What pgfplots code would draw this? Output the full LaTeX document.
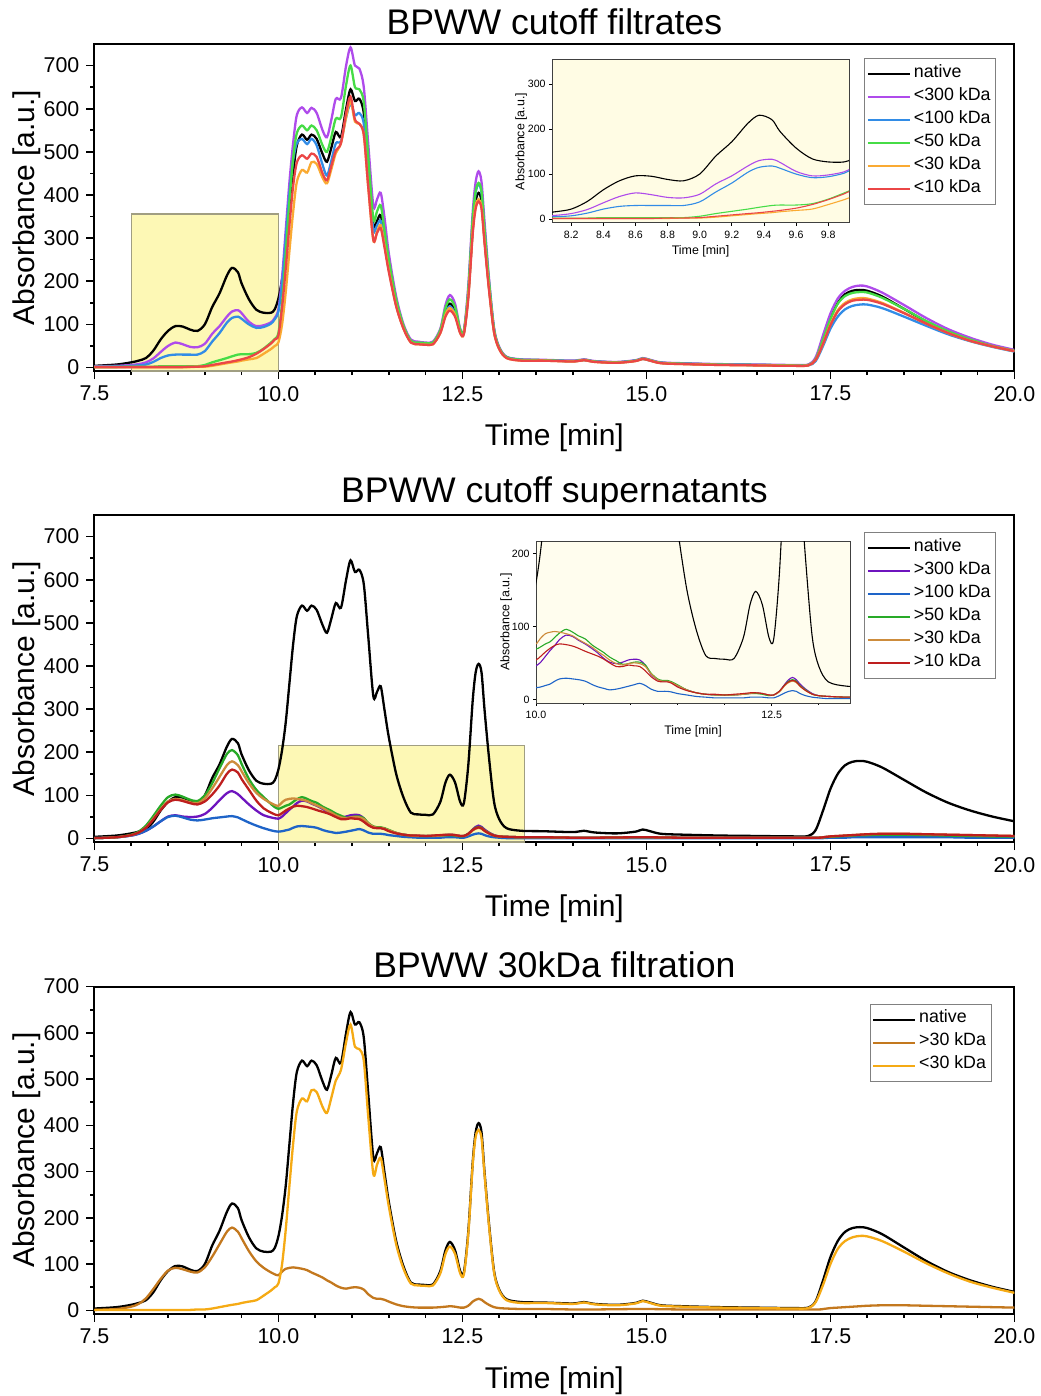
\documentclass[border=0pt]{standalone}
\usepackage{fontspec}
\setmainfont{Liberation Sans}
\usepackage{pgfplots}
\usepackage{pgfplotstable}
\pgfplotsset{compat=1.18}

% line colours
\definecolor{fA}{RGB}{175,75,235}
\definecolor{fB}{RGB}{50,140,230}
\definecolor{fC}{RGB}{70,220,70}
\definecolor{fD}{RGB}{250,170,50}
\definecolor{fE}{RGB}{235,70,70}
\definecolor{sA}{RGB}{110,20,190}
\definecolor{sB}{RGB}{30,100,200}
\definecolor{sC}{RGB}{40,170,40}
\definecolor{sD}{RGB}{205,140,60}
\definecolor{sE}{RGB}{190,30,30}
\definecolor{cGT}{RGB}{195,120,30}
\definecolor{cLT}{RGB}{245,170,20}
\definecolor{zoomfill}{RGB}{253,248,181}
\definecolor{zoomedge}{RGB}{160,158,130}
\definecolor{insetbgA}{RGB}{255,252,228}
\definecolor{insetbgB}{RGB}{255,253,238}

\newcommand\titsize{\fontsize{17.8pt}{20pt}\selectfont}
\newcommand\labsize{\fontsize{15pt}{17pt}\selectfont}
\newcommand\ticsize{\fontsize{10.7pt}{12pt}\selectfont}
\newcommand\legsize{\fontsize{8.9pt}{10pt}\selectfont}
\newcommand\insticsize{\fontsize{5.3pt}{6.5pt}\selectfont}
\newcommand\inslabsize{\fontsize{6.2pt}{7.5pt}\selectfont}

% filtrates (native and permeates)
\pgfplotstableread{
t nat f300 f100 f50 f30 f10
7.5 4 3 2 1 1 1
7.8 7 4 3 1 1 1
8.0 12 6 4 2 1 1
8.1 16 8 5 2 1 1
8.2 22 12 7 2 1 1
8.3 39 21 13 2 1 1
8.4 65 36 22 3 1 1
8.5 85 50 28 3 1 1
8.6 96 58 30 3 1 1
8.7 95 54 30 3 1 1
8.8 88 48 30 3 1 2
8.9 85 47 30 3 2 2
9.0 100 55 38 6 2 3
9.1 140 78 60 12 4 6
9.2 172 96 80 17 7 9
9.3 213 118 104 22 10 12
9.37 231 130 115 26 12 14
9.45 221 133 118 30 14 17
9.5 195 126 113 31 16 19
9.6 158 106 100 31 19 24
9.7 134 96 92 34 22 32
9.8 127 98 94 44 32 43
9.9 127 105 102 58 43 56
9.95 135 115 112 66 50 65
10.0 160 135 130 80 58 75
10.05 205 210 195 150 100 140
10.1 270 320 300 265 175 230
10.15 360 430 405 385 270 330
10.2 450 520 480 485 360 420
10.25 515 585 520 543 430 475
10.32 540 603 530 561 458 492
10.39 528 590 518 550 452 484
10.45 540 602 530 561 476 496
10.52 530 590 515 550 472 488
10.6 495 550 470 515 440 450
10.66 477 534 445 500 427 434
10.72 510 575 480 535 460 468
10.78 546 623 520 577 497 503
10.85 535 625 525 580 520 520
10.92 600 700 580 655 580 590
10.98 645 742 612 700 618 628
11.04 618 700 585 650 570 575
11.1 623 693 590 645 565 565
11.16 590 650 565 615 540 540
11.22 470 520 450 490 420 420
11.29 330 375 320 345 295 296
11.34 340 390 330 362 315 312
11.39 353 405 340 376 330 323
11.44 300 350 290 320 285 280
11.5 235 265 228 250 225 222
11.6 150 165 145 158 143 142
11.7 95 100 92 97 90 90
11.8 60 65 60 62 58 58
11.9 56 60 56 58 54 54
12.0 55 58 55 57 53 53
12.1 56 60 56 58 54 54
12.2 85 90 82 87 80 80
12.27 130 145 125 138 122 118
12.33 148 168 142 158 138 132
12.4 130 148 125 140 122 118
12.47 85 90 82 88 80 80
12.52 82 85 80 84 78 78
12.58 170 190 175 180 165 160
12.64 320 360 340 345 315 310
12.68 385 430 405 408 375 368
12.72 405 455 425 428 390 385
12.76 385 430 405 408 372 368
12.8 300 340 320 322 295 290
12.86 190 210 200 202 185 182
12.93 85 92 88 89 82 82
13.0 45 48 45 46 43 43
13.1 24 25 24 24 22 22
13.3 18 19 18 18 16 16
13.6 17 18 17 17 16 16
14.0 15 16 15 15 14 14
14.15 18 19 17 18 17 17
14.3 14 15 14 14 13 13
14.6 12 13 12 12 11 11
14.85 16 17 16 16 15 15
14.95 21 22 20 21 20 20
15.05 17 18 16 17 16 16
15.2 11 12 11 11 10 10
15.5 9 10 9 9 8 8
16.0 7 8 7 7 6 6
16.5 6 7 6 6 5 5
17.0 5 6 5 5 4 4
17.2 6 7 5 6 5 5
17.3 20 24 15 20 18 18
17.4 65 75 50 65 55 55
17.5 115 125 90 112 100 98
17.6 150 160 118 148 133 130
17.7 170 178 135 166 150 147
17.8 178 187 143 173 158 155
17.9 180 190 146 175 161 157
18.0 178 188 146 174 160 157
18.2 165 174 138 162 150 148
18.5 136 145 118 136 127 126
18.8 107 115 97 108 102 102
19.1 83 89 77 84 80 80
19.4 65 69 61 65 62 62
19.7 51 53 48 50 49 49
20.0 40 41 37 39 38 38
}\filt

% supernatants (retentates)
\pgfplotstableread{
t s300 s100 s50 s30 s10
7.5 1 1 1 1 1
7.8 3 3 3 3 3
8.0 7 7 9 8 8
8.1 11 11 16 14 14
8.2 18 18 30 26 25
8.3 28 28 52 46 44
8.4 40 40 76 68 66
8.5 51 50 96 86 84
8.6 54 53 102 92 90
8.7 51 49 97 89 87
8.8 50 44 90 84 82
8.9 51 42 87 82 79
9.0 57 44 100 93 86
9.1 71 47 128 116 102
9.2 89 49 163 143 123
9.3 105 51 196 170 150
9.37 110 52 205 179 160
9.45 103 49 193 170 153
9.5 95 45 173 156 138
9.6 79 37 138 128 113
9.7 65 30 113 106 88
9.8 54 24 96 92 70
9.9 49 19 80 82 60
9.95 47 17 73 78 56
10.0 46 16 69 76 54
10.05 51 17 72 84 59
10.1 59 19 76 90 65
10.15 67 21 79 92 70
10.2 74 25 85 93 74
10.25 82 28 91 92 76
10.32 88 29 96 90 75
10.39 86 28 92 87 73
10.45 81 27 87 82 70
10.52 76 25 83 77 66
10.6 69 20 74 71 62
10.66 63 17 69 65 59
10.72 56 15 64 60 55
10.78 51 13 58 54 50
10.85 49 14 53 49 45
10.92 51 16 48 47 45
10.98 54 18 49 49 47
11.04 55 20 51 50 46
11.1 54 22 51 49 45
11.16 47 19 47 45 39
11.22 34 14 36 35 31
11.29 27 11 28 27 25
11.34 25 11 26 25 24
11.39 25 11 26 25 24
11.44 23 10 24 23 22
11.5 19 8 20 19 17
11.6 13 6 13 13 12
11.7 9 4 9 9 9
11.8 7 3 7 7 7
11.9 6 2 6 6 7
12.0 6 2 6 6 6
12.1 6 2 6 6 7
12.2 7 2 7 7 8
12.27 8 3 8 8 9
12.33 9 3 8 9 9
12.4 8 3 7 8 8
12.47 6 2 5 6 6
12.52 6 2 6 6 6
12.58 11 5 11 10 11
12.64 21 9 20 19 20
12.68 27 11 25 23 24
12.72 30 12 27 25 26
12.76 27 11 25 23 24
12.8 21 8 19 18 18
12.86 14 5 13 12 12
12.93 8 3 7 7 7
13.0 5 2 5 5 5
13.1 4 1 4 4 4
13.3 3 1 3 3 3
13.6 3 1 3 3 3
14.0 2 1 2 2 2
14.3 2 1 2 2 2
14.95 3 1 3 3 3
15.5 2 1 2 2 2
16.5 2 1 2 2 2
17.3 2 1 2 2 2
17.4 3 1 3 3 3
17.5 4 2 4 5 5
17.6 5 2 5 6 6
17.7 6 2 6 7 7
17.8 7 3 7 8 8
17.9 8 3 8 9 9
18.0 8 3 8 10 10
18.2 9 3 9 11 11
18.5 9 3 9 11 11
18.8 8 3 8 10 10
19.1 7 3 7 9 9
19.4 6 2 6 8 8
19.7 5 2 5 7 7
20.0 5 2 5 6 6
}\supn

\pgfplotsset{
  mainax/.style={
    scale only axis, width=460pt, height=163.5pt, anchor=north west,
    xmin=7.5, xmax=20,
    xtick={7.5,10,12.5,15,17.5,20},
    xticklabels={7.5,10.0,12.5,15.0,17.5,20.0},
    minor x tick num=4,
    ytick={0,100,...,700},
    yticklabels={0,100,200,300,400,500,600,700},
    minor y tick num=1,
    tick align=outside, tick pos=left,
    major tick length=4pt, minor tick length=2pt,
    every tick/.style={black, line width=0.8pt},
    axis line style={black, line width=1pt},
    tick label style={font=\ticsize},
    xlabel={Time [min]}, ylabel={Absorbance [a.u.]},
    every axis x label/.style={at={(axis description cs:0.5,-0.205)}, anchor=center, font=\labsize},
    every axis y label/.style={at={(axis description cs:-0.074,0.5)}, anchor=center, rotate=90, font=\labsize},
    every axis title/.style={font=\titsize, at={(axis description cs:0.5,1)}, anchor=center, yshift=11pt},
    legend cell align=left,
    legend style={anchor=north east, draw=gray, fill=white, font=\legsize,
      inner xsep=1pt, inner ysep=2pt, row sep=0pt,
      nodes={inner ysep=0pt, inner xsep=1.5pt, text height=7.3pt, text depth=4.2pt}},
    legend image code/.code={\draw[#1] (0pt,0pt) -- (21pt,0pt);},
    every axis plot/.append style={line width=1.15pt, smooth, tension=0.5},
  },
  insetax/.style={
    scale only axis, anchor=north west,
    axis background/.style={fill=#1},
    tick align=outside, tick pos=left,
    major tick length=1.5pt, minor tick length=0.8pt,
    every tick/.style={black, line width=0.4pt},
    axis line style={black!75, line width=0.5pt},
    tick label style={font=\insticsize},
    yticklabel style={xshift=1.8pt},
    xticklabel style={yshift=1.2pt},
    xlabel={Time [min]}, ylabel={Absorbance [a.u.]},
    every axis plot/.append style={line width=0.55pt, smooth, tension=0.5},
  },
}

\begin{document}
\begin{tikzpicture}
\useasboundingbox (0,0) rectangle (520pt,-698pt);

% ---------- filtrates ----------
\begin{axis}[mainax, at={(47.2pt,-22pt)}, ymin=-8, ymax=750,
  title={BPWW cutoff filtrates},
  legend style={at={(axis description cs:0.98,0.957)}}]
\fill[zoomfill, draw=zoomedge, line width=0.6pt] (axis cs:8,-8) rectangle (axis cs:10,356);
\addplot[black] table[x=t, y=nat] {\filt}; \addlegendentry{native}
\addplot[fA] table[x=t, y=f300] {\filt}; \addlegendentry{<300 kDa}
\addplot[fB] table[x=t, y=f100] {\filt}; \addlegendentry{<100 kDa}
\addplot[fC] table[x=t, y=f50] {\filt}; \addlegendentry{<50 kDa}
\addplot[fD] table[x=t, y=f30] {\filt}; \addlegendentry{<30 kDa}
\addplot[fE] table[x=t, y=f10] {\filt}; \addlegendentry{<10 kDa}
\end{axis}

\begin{axis}[insetax=insetbgA, at={(276pt,-30pt)}, width=148.5pt, height=81.5pt,
  xmin=8.08, xmax=9.93, ymin=-9, ymax=354,
  xtick={8.2,8.4,8.6,8.8,9.0,9.2,9.4,9.6,9.8},
  xticklabels={8.2,8.4,8.6,8.8,9.0,9.2,9.4,9.6,9.8},
  ytick={0,100,200,300}, yticklabels={0,100,200,300},
  every axis x label/.style={at={(axis description cs:0.5,-0.176)}, anchor=center, font=\inslabsize},
  every axis y label/.style={at={(axis description cs:-0.104,0.5)}, anchor=center, rotate=90, font=\inslabsize}]
\addplot[black] table[x=t, y=nat] {\filt};
\addplot[fA] table[x=t, y=f300] {\filt};
\addplot[fB] table[x=t, y=f100] {\filt};
\addplot[fC] table[x=t, y=f50] {\filt};
\addplot[fD] table[x=t, y=f30] {\filt};
\addplot[fE] table[x=t, y=f10] {\filt};
\end{axis}

% ---------- supernatants ----------
\begin{axis}[mainax, at={(47.2pt,-257.5pt)}, ymin=-8, ymax=750,
  title={BPWW cutoff supernatants},
  legend style={at={(axis description cs:0.98,0.948)}}]
\fill[zoomfill, draw=zoomedge, line width=0.6pt] (axis cs:10,-8) rectangle (axis cs:13.34,216);
\addplot[black] table[x=t, y=nat] {\filt}; \addlegendentry{native}
\addplot[sA] table[x=t, y=s300] {\supn}; \addlegendentry{>300 kDa}
\addplot[sB] table[x=t, y=s100] {\supn}; \addlegendentry{>100 kDa}
\addplot[sC] table[x=t, y=s50] {\supn}; \addlegendentry{>50 kDa}
\addplot[sD] table[x=t, y=s30] {\supn}; \addlegendentry{>30 kDa}
\addplot[sE] table[x=t, y=s10] {\supn}; \addlegendentry{>10 kDa}
\end{axis}

\begin{axis}[insetax=insetbgB, at={(268pt,-270.5pt)}, width=157pt, height=81pt,
  xmin=10, xmax=13.33, ymin=-5, ymax=217,
  xtick={10,12.5}, xticklabels={10.0,12.5}, minor xtick={10.5,11,11.5,12,13},
  ytick={0,100,200}, yticklabels={0,100,200},
  every axis x label/.style={at={(axis description cs:0.5,-0.177)}, anchor=center, font=\inslabsize},
  every axis y label/.style={at={(axis description cs:-0.095,0.5)}, anchor=center, rotate=90, font=\inslabsize}]
\addplot[black] table[x=t, y=nat] {\filt};
\addplot[sA] table[x=t, y=s300] {\supn};
\addplot[sB] table[x=t, y=s100] {\supn};
\addplot[sC] table[x=t, y=s50] {\supn};
\addplot[sD] table[x=t, y=s30] {\supn};
\addplot[sE] table[x=t, y=s10] {\supn};
\end{axis}

% ---------- 30 kDa filtration ----------
\begin{axis}[mainax, at={(47.2pt,-493.3pt)}, ymin=-7, ymax=700,
  title={BPWW 30kDa filtration},
  legend style={at={(axis description cs:0.975,0.947)}}]
\addplot[black] table[x=t, y=nat] {\filt}; \addlegendentry{native}
\addplot[cGT] table[x=t, y=s30] {\supn}; \addlegendentry{>30 kDa}
\addplot[cLT] table[x=t, y=f30] {\filt}; \addlegendentry{<30 kDa}
\end{axis}
\end{tikzpicture}
\end{document}
